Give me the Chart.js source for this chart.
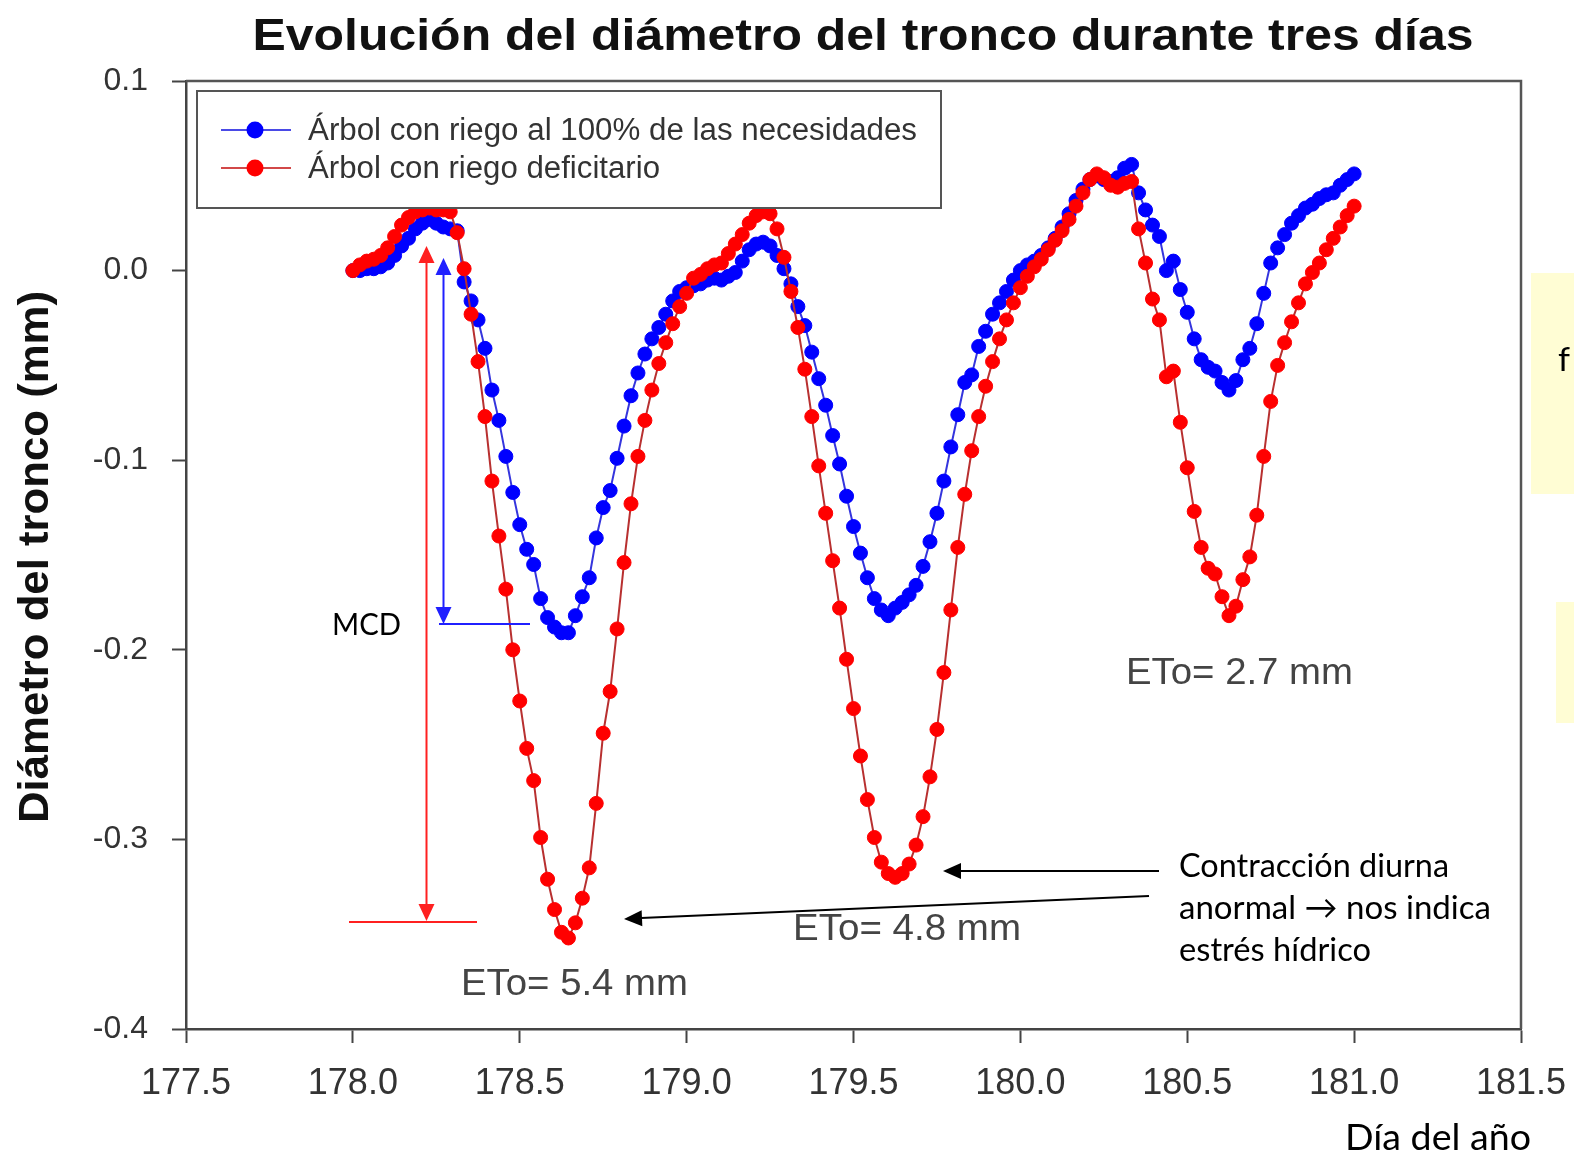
<!DOCTYPE html>
<html>
<head>
<meta charset="utf-8">
<title>Evolución del diámetro del tronco</title>
<script src="https://cdn.jsdelivr.net/npm/chart.js@4.4.0/dist/chart.umd.min.js"></script>
<style>
  html, body { margin: 0; padding: 0; background: #fff; }
  #wrap { width: 1574px; height: 1153px; }
</style>
</head>
<body>
<div id="wrap"><canvas id="trunkChart" width="1574" height="1153"></canvas></div>
<script>
// one reading every 30 minutes, starting at day 178.0
const startDay = 178.0;
const stepDay = 1 / 48;

const seriesNames = ['Árbol con riego al 100% de las necesidades', 'Árbol con riego deficitario'];

// trunk diameter variation (mm), tree irrigated at 100%
const fullIrrigation = [
  0.000, 0.000, 0.001, 0.001, 0.002, 0.004, 0.008, 0.013, 0.017, 0.022,
  0.025, 0.027, 0.025, 0.023, 0.022, 0.021, -0.006, -0.016, -0.026, -0.041,
  -0.063, -0.079, -0.098, -0.117, -0.134, -0.147, -0.155, -0.173, -0.183, -0.188,
  -0.191, -0.191, -0.182, -0.172, -0.162, -0.141, -0.125, -0.116, -0.099, -0.082,
  -0.066, -0.054, -0.044, -0.036, -0.030, -0.023, -0.016, -0.011, -0.009, -0.008,
  -0.007, -0.005, -0.004, -0.005, -0.003, -0.001, 0.005, 0.011, 0.014, 0.015,
  0.013, 0.008, 0.001, -0.007, -0.019, -0.029, -0.043, -0.057, -0.071, -0.087,
  -0.102, -0.119, -0.135, -0.149, -0.162, -0.173, -0.179, -0.182, -0.178, -0.175,
  -0.171, -0.166, -0.156, -0.143, -0.128, -0.111, -0.093, -0.076, -0.059, -0.055,
  -0.040, -0.032, -0.023, -0.017, -0.011, -0.005, 0.000, 0.003, 0.005, 0.008,
  0.012, 0.017, 0.023, 0.030, 0.037, 0.043, 0.048, 0.050, 0.048, 0.047,
  0.049, 0.054, 0.056, 0.041, 0.032, 0.024, 0.018, 0.000, 0.005, -0.010,
  -0.022, -0.036, -0.047, -0.051, -0.053, -0.059, -0.063, -0.058, -0.047, -0.041,
  -0.028, -0.012, 0.004, 0.012, 0.019, 0.025, 0.029, 0.033, 0.035, 0.038,
  0.040, 0.041, 0.045, 0.048, 0.051
];

// trunk diameter variation (mm), deficit irrigation
const deficitIrrigation = [
  0.000, 0.003, 0.005, 0.006, 0.008, 0.012, 0.018, 0.024, 0.028, 0.031,
  0.032, 0.033, 0.032, 0.032, 0.031, 0.020, 0.001, -0.023, -0.048, -0.077,
  -0.111, -0.140, -0.168, -0.200, -0.227, -0.252, -0.269, -0.299, -0.321, -0.337,
  -0.349, -0.352, -0.344, -0.331, -0.315, -0.281, -0.244, -0.222, -0.189, -0.154,
  -0.123, -0.098, -0.079, -0.063, -0.049, -0.038, -0.028, -0.019, -0.012, -0.004,
  -0.002, 0.001, 0.003, 0.004, 0.009, 0.014, 0.019, 0.025, 0.029, 0.031,
  0.030, 0.022, 0.007, -0.011, -0.030, -0.052, -0.077, -0.103, -0.128, -0.153,
  -0.178, -0.205, -0.231, -0.256, -0.279, -0.299, -0.312, -0.318, -0.320, -0.318,
  -0.313, -0.303, -0.288, -0.267, -0.242, -0.212, -0.179, -0.146, -0.118, -0.095,
  -0.077, -0.061, -0.048, -0.036, -0.026, -0.017, -0.009, -0.003, 0.002, 0.006,
  0.011, 0.016, 0.021, 0.027, 0.034, 0.041, 0.048, 0.051, 0.049, 0.045,
  0.044, 0.046, 0.047, 0.022, 0.004, -0.015, -0.026, -0.056, -0.053, -0.080,
  -0.104, -0.127, -0.146, -0.157, -0.160, -0.172, -0.182, -0.177, -0.163, -0.151,
  -0.129, -0.098, -0.069, -0.050, -0.038, -0.027, -0.017, -0.007, -0.001, 0.004,
  0.011, 0.017, 0.023, 0.029, 0.034
];

const xTicks = [177.5, 178.0, 178.5, 179.0, 179.5, 180.0, 180.5, 181.0, 181.5];
const yTicks = [0.1, 0.0, -0.1, -0.2, -0.3, -0.4];

const etoLabels = ['ETo= 5.4 mm', 'ETo= 4.8 mm', 'ETo= 2.7 mm'];
const noteLines = ['Contracción diurna', 'anormal \u2192 nos indica', 'estrés hídrico'];

const BLUE = '#0000ff', RED = '#ff0000';

const toPoints = vals => vals.map((v, i) => ({ x: startDay + i * stepDay, y: v }));

// draw text squeezed/stretched to a given width
function fitText(ctx, text, x, y, width, font, color, center) {
  ctx.save();
  ctx.font = font;
  const w = ctx.measureText(text).width;
  ctx.translate(center ? x - width / 2 : x, y);
  ctx.scale(width / w, 1);
  ctx.fillStyle = color;
  ctx.textAlign = 'left';
  ctx.textBaseline = 'middle';
  ctx.fillText(text, 0, 0);
  ctx.restore();
}

function arrowHead(ctx, tipX, tipY, fromX, fromY, len, half, color) {
  const a = Math.atan2(tipY - fromY, tipX - fromX);
  ctx.save();
  ctx.translate(tipX, tipY);
  ctx.rotate(a);
  ctx.beginPath();
  ctx.moveTo(0, 0);
  ctx.lineTo(-len, -half);
  ctx.lineTo(-len, half);
  ctx.closePath();
  ctx.fillStyle = color;
  ctx.fill();
  ctx.restore();
}

function line(ctx, x1, y1, x2, y2, color, w) {
  ctx.beginPath();
  ctx.moveTo(x1, y1);
  ctx.lineTo(x2, y2);
  ctx.strokeStyle = color;
  ctx.lineWidth = w;
  ctx.stroke();
}

const decor = {
  id: 'decor',
  beforeDraw(chart) {
    const ctx = chart.ctx;
    ctx.save();
    ctx.fillStyle = '#ffffff';
    ctx.fillRect(0, 0, chart.width, chart.height);
    // pale slide boxes cut by the right edge
    ctx.fillStyle = '#fffdd4';
    ctx.fillRect(1531, 273, 43, 221);
    ctx.fillRect(1556, 602, 18, 121);
    ctx.restore();
    fitText(ctx, 'f', 1558, 361, 12, '32px Lato', '#000', false);
  },
  afterDatasetsDraw(chart) {
    const ctx = chart.ctx;
    const a = chart.chartArea;
    ctx.save();
    // top and right frame
    ctx.beginPath();
    ctx.moveTo(a.left, a.top);
    ctx.lineTo(a.right, a.top);
    ctx.lineTo(a.right, a.bottom);
    ctx.strokeStyle = '#555';
    ctx.lineWidth = 2.5;
    ctx.stroke();

    // legend box
    ctx.fillStyle = '#fff';
    ctx.fillRect(197, 91, 744, 117);
    ctx.strokeStyle = '#555';
    ctx.lineWidth = 2;
    ctx.strokeRect(197, 91, 744, 117);
    const legendRows = [
      { name: seriesNames[0], y: 130, lineColor: '#4a4ae6', dot: BLUE, w: 609 },
      { name: seriesNames[1], y: 168, lineColor: '#d24848', dot: RED, w: 352 }
    ];
    legendRows.forEach(r => {
      line(ctx, 221, r.y, 291, r.y, r.lineColor, 2);
      ctx.beginPath();
      ctx.arc(255, r.y, 8.5, 0, Math.PI * 2);
      ctx.fillStyle = r.dot;
      ctx.fill();
      fitText(ctx, r.name, 308, r.y + 1.5, r.w, '31px "Liberation Sans"', '#333', false);
    });

    // MCD arrows
    line(ctx, 426.5, 262, 426.5, 905, '#ff2020', 2);
    arrowHead(ctx, 426.5, 246, 426.5, 300, 17, 8, '#ff2020');
    arrowHead(ctx, 426.5, 921, 426.5, 800, 17, 8, '#ff2020');
    line(ctx, 349, 922, 477, 922, '#ff2020', 2);
    line(ctx, 443.5, 274, 443.5, 608, '#2020ff', 2);
    arrowHead(ctx, 443.5, 258, 443.5, 300, 17, 8, '#2020ff');
    arrowHead(ctx, 443.5, 624, 443.5, 500, 17, 8, '#2020ff');
    line(ctx, 439, 624, 530, 624, '#2020ff', 2);
    fitText(ctx, 'MCD', 332, 625, 69, '30px Lato', '#000', false);

    // stress note arrows
    line(ctx, 1159, 871, 960, 871, '#000', 2);
    arrowHead(ctx, 943, 871, 1159, 871, 18, 8, '#000');
    line(ctx, 1149, 896, 641, 918, '#000', 2);
    arrowHead(ctx, 624, 919, 1149, 896, 18, 8, '#000');

    // reference evapotranspiration labels
    fitText(ctx, etoLabels[0], 461, 985, 227, '37px "Liberation Sans"', '#444', false);
    fitText(ctx, etoLabels[1], 793, 930, 228, '37px "Liberation Sans"', '#444', false);
    fitText(ctx, etoLabels[2], 1126, 674, 227, '37px "Liberation Sans"', '#444', false);
    ctx.restore();
  },
  afterDraw(chart) {
    const ctx = chart.ctx;
    fitText(ctx, 'Evolución del diámetro del tronco durante tres días', 863, 38, 1221,
      'bold 44px "Liberation Sans"', '#111', true);
    ctx.save();
    ctx.translate(36, 557);
    ctx.rotate(-Math.PI / 2);
    fitText(ctx, 'Diámetro del tronco (mm)', 0, 0, 532, 'bold 42px "Liberation Sans"', '#111', true);
    ctx.restore();
    fitText(ctx, 'Día del año', 1345, 1138, 186, '37px Lato', '#000', false);
    const widths = [270, 312, 192];
    noteLines.forEach((t, i) => fitText(ctx, t, 1179, 866 + i * 42, widths[i], '33px Lato', '#000', false));
  }
};

const tickFont = size => ({ family: '"Liberation Sans", Arial, sans-serif', size: size });

new Chart(document.getElementById('trunkChart'), {
  type: 'line',
  data: {
    datasets: [
      {
        label: seriesNames[0],
        data: toPoints(fullIrrigation),
        borderColor: '#3535dd',
        borderWidth: 2,
        backgroundColor: BLUE,
        pointBackgroundColor: BLUE,
        pointBorderColor: BLUE,
        pointBorderWidth: 1,
        pointRadius: 7,
        tension: 0,
        order: 2
      },
      {
        label: seriesNames[1],
        data: toPoints(deficitIrrigation),
        borderColor: '#b83030',
        borderWidth: 2,
        backgroundColor: RED,
        pointBackgroundColor: RED,
        pointBorderColor: RED,
        pointBorderWidth: 1,
        pointRadius: 7,
        tension: 0,
        order: 1
      }
    ]
  },
  options: {
    responsive: false,
    animation: false,
    devicePixelRatio: 1,
    layout: { padding: { top: 81, right: 53, bottom: 0, left: 0 } },
    plugins: {
      legend: { display: false },
      tooltip: { enabled: false },
      title: { display: false }
    },
    scales: {
      x: {
        type: 'linear',
        min: xTicks[0],
        max: xTicks[xTicks.length - 1],
        afterBuildTicks: s => { s.ticks = xTicks.map(v => ({ value: v })); },
        afterFit: s => { s.height = 124; s.paddingLeft = 0; s.paddingRight = 0; },
        ticks: {
          callback: v => Number(v).toFixed(1),
          font: tickFont(36),
          color: '#333',
          padding: 19,
          maxRotation: 0,
          autoSkip: false
        },
        grid: { drawOnChartArea: false, drawTicks: true, tickLength: 14, tickWidth: 2, tickColor: '#444' },
        border: { color: '#444', width: 2.5 }
      },
      y: {
        type: 'linear',
        min: yTicks[yTicks.length - 1],
        max: yTicks[0],
        afterBuildTicks: s => { s.ticks = yTicks.map(v => ({ value: v })); },
        afterFit: s => { s.width = 186; },
        ticks: {
          callback: v => (Math.abs(v) < 1e-9 ? '0.0' : Number(v).toFixed(1)),
          font: tickFont(32),
          color: '#333',
          padding: 24,
          autoSkip: false
        },
        grid: { drawOnChartArea: false, drawTicks: true, tickLength: 14, tickWidth: 2, tickColor: '#444' },
        border: { color: '#444', width: 2.5 }
      }
    }
  },
  plugins: [decor]
});
</script>
</body>
</html>
